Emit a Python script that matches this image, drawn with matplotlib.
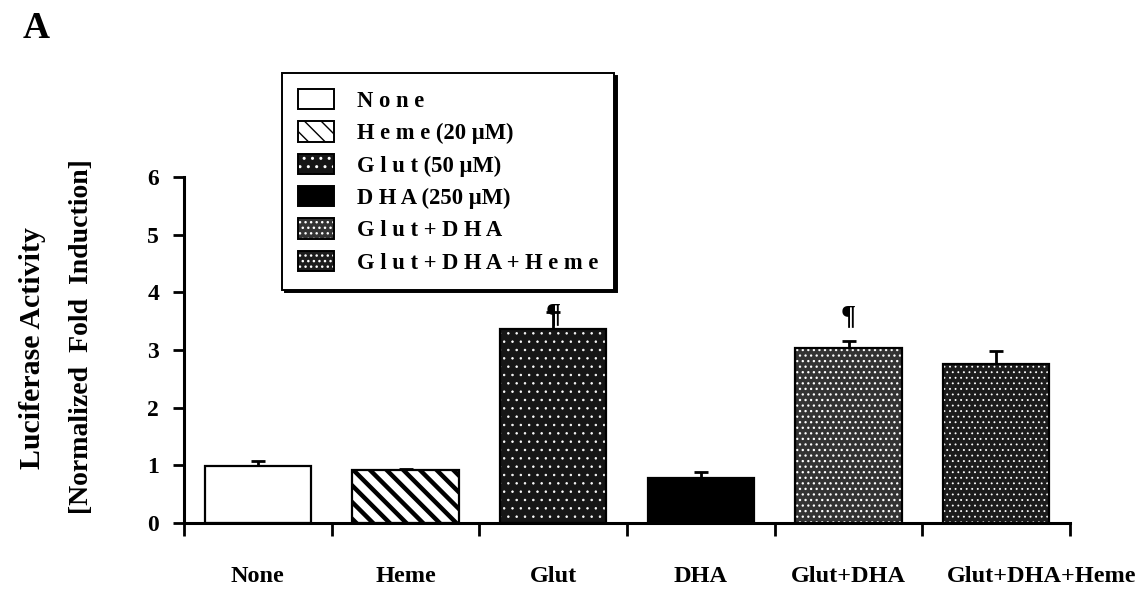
import matplotlib
matplotlib.use("Agg")
import matplotlib.pyplot as plt
from matplotlib.patches import Patch
from matplotlib.legend_handler import HandlerTuple
import matplotlib.transforms as mtransforms

categories = ['None', 'Heme', 'Glut', 'DHA', 'Glut+DHA', 'Glut+DHA+Heme']
values = [0.99, 0.92, 3.36, 0.78, 3.03, 2.75]
errors = [0.09, 0.02, 0.30, 0.11, 0.12, 0.24]
legend_labels = ['N o n e', 'H e m e (20 µM)', 'G l u t (50 µM)', 'D H A (250 µM)',
                 'G l u t + D H A', 'G l u t + D H A + H e m e']
sig_marks = ['', '', '¶', '', '¶', '']
sig_y = [0, 0, 3.40, 0, 3.36, 0]
yticks = [0, 1, 2, 3, 4, 5, 6]

SERIF = ['Liberation Serif', 'DejaVu Serif']
plt.rcParams['font.family'] = SERIF
plt.rcParams['font.weight'] = 'bold'

# styles: (facecolor, hatch, hatchcolor, hatch linewidth)
styles = [
    ('white', None, 'black', 1.0),
    ('white', '\\\\', 'black', 3.2),
    ('#161616', '..', 'white', 0.55),
    ('black', None, 'black', 1.0),
    ('#333333', '...', 'white', 0.9),
    ('#1c1c1c', '...', 'white', 0.6),
]

fig = plt.figure(figsize=(11.44, 5.92), dpi=100)
ax = fig.add_axes([184/1144, 1-523/592, (1070-184)/1144, (523-177)/592])

x = list(range(len(categories)))
width = 0.72


def make_patch(i, **kw):
    fc, h, hc, hlw = styles[i]
    with plt.rc_context({'hatch.linewidth': hlw}):
        p = Patch(facecolor=fc, hatch=h, edgecolor=hc, linewidth=0, **kw)
        if hasattr(p, 'set_hatch_linewidth'):
            p.set_hatch_linewidth(hlw)
    return p


for i in x:
    fc, h, hc, hlw = styles[i]
    with plt.rc_context({'hatch.linewidth': hlw}):
        bars = ax.bar(x[i], values[i], width=width, color=fc, hatch=h,
                      edgecolor=hc, linewidth=0, zorder=2)
        for b in bars:
            if hasattr(b, 'set_hatch_linewidth'):
                b.set_hatch_linewidth(hlw)
    ax.bar(x[i], values[i], width=width, fill=False, edgecolor='black',
           linewidth=1.6, zorder=3)

ax.errorbar(x, values, yerr=[[0]*len(errors), errors], fmt='none',
            ecolor='black', elinewidth=2, capsize=5, capthick=2, zorder=1)

for i, m in enumerate(sig_marks):
    if m:
        ax.text(x[i], sig_y[i], m, ha='center', va='bottom', fontsize=20,
                fontweight='bold', family=SERIF, zorder=4)

ax.set_xlim(-0.5, 5.5)
ax.set_ylim(0, 6)
ax.spines['top'].set_visible(False)
ax.spines['right'].set_visible(False)
ax.spines['left'].set_linewidth(2.2)
ax.spines['bottom'].set_linewidth(2.2)

ax.set_yticks(yticks)
ax.set_yticklabels([str(v) for v in yticks], fontsize=17, fontweight='bold')
ax.tick_params(axis='y', direction='out', length=8, width=2, pad=10)

ax.set_xticks([i - 0.5 for i in range(len(categories) + 1)])
ax.set_xticklabels([''] * (len(categories) + 1))
ax.tick_params(axis='x', which='major', direction='out', length=9, width=2)
ax.set_xticks(x, minor=True)
ax.set_xticklabels(categories, minor=True, fontsize=17.5, fontweight='bold')
ax.tick_params(axis='x', which='minor', length=0, pad=31)
# last label sits further right in the reference
lbls = ax.get_xticklabels(minor=True)
lbls[-1].set_transform(lbls[-1].get_transform() +
                       mtransforms.ScaledTranslation(0.45, 0, fig.dpi_scale_trans))

# y label (two lines)
fig.text(33/1144, 1-348/592, 'Luciferase Activity', rotation=90, ha='center',
         va='center', fontsize=21.5, fontweight='bold')
fig.text(82/1144, 1-337/592, '[Normalized  Fold  Induction]', rotation=90,
         ha='center', va='center', fontsize=20, fontweight='bold')

# panel letter
fig.text(23/1144, 1-38/592, 'A', ha='left', va='baseline', fontsize=27,
         fontweight='bold')

# legend
handles = []
for i in range(len(categories)):
    outline = Patch(facecolor='none', edgecolor='black', linewidth=1.4)
    handles.append((make_patch(i), outline))

leg = fig.legend(handles, legend_labels, loc='upper left',
                 bbox_to_anchor=(282/1144, 1-73/592),
                 bbox_transform=fig.transFigure, borderaxespad=0,
                 handler_map={tuple: HandlerTuple(ndivide=1, pad=0)},
                 prop={'family': SERIF, 'weight': 'bold', 'size': 16.3},
                 frameon=True, fancybox=False, shadow={'color': 'black', 'alpha': 1},
                 handlelength=1.6, handleheight=1.0, handletextpad=1.0,
                 labelspacing=0.42, borderpad=0.7)
leg.get_frame().set_edgecolor('black')
leg.get_frame().set_linewidth(1.4)
leg.set_zorder(5)

fig.savefig('out.png', dpi=100)
